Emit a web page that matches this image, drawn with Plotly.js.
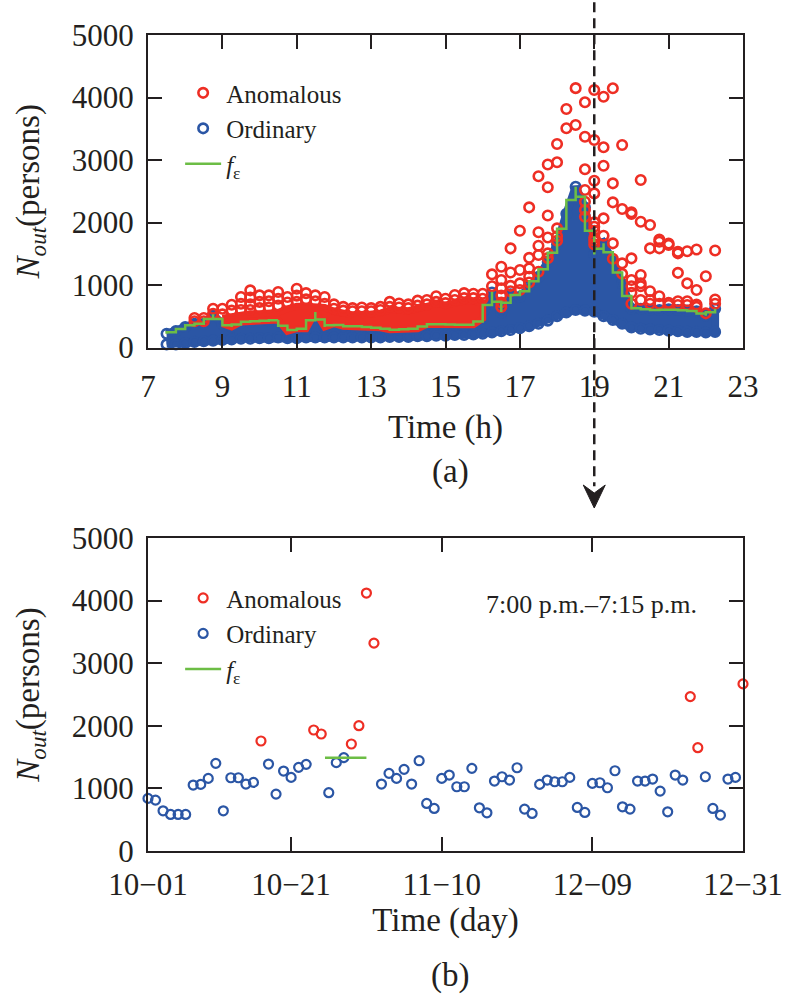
<!DOCTYPE html>
<html><head><meta charset="utf-8">
<script src="https://cdn.plot.ly/plotly-3.0.1.min.js"></script>
<style>html,body{margin:0;padding:0;background:#fff}</style>
</head><body>
<div id="chart" style="width:797px;height:995px"></div>
<script>
// ---------- Panel (a): 15-minute slots (start hour) ----------
const slots = [7.5,7.75,8,8.25,8.5,8.75,9,9.25,9.5,9.75,
  10,10.25,10.5,10.75,11,11.25,11.5,11.75,12,12.25,
  12.5,12.75,13,13.25,13.5,13.75,14,14.25,14.5,14.75,
  15,15.25,15.5,15.75,16,16.25,16.5,16.75,17,17.25,
  17.5,17.75,18,18.25,18.5,18.75,19,19.25,19.5,19.75,
  20,20.25,20.5,20.75,21,21.25,21.5,21.75,22,22.25];

// threshold f_epsilon per slot
const fEps = [221,264,328,381,381,531,381,328,408,415,
  425,432,440,259,301,301,568,328,381,339,
  339,339,317,317,285,285,301,301,371,371,
  371,365,365,365,467,893,570,860,820,984,
  1133,1373,1656,2147,2573,2250,1490,1667,1380,1020,
  627,627,600,600,610,600,590,580,510,620];

// ordinary points: lowest and highest value per slot (dense band between)
const ordLow = [50,50,70,90,100,110,120,130,140,140,
  150,150,160,150,150,160,160,160,160,160,
  160,160,160,160,170,170,170,180,180,190,
  190,200,200,210,220,240,260,280,310,340,
  380,430,500,560,600,590,573,500,440,380,
  320,300,290,280,270,260,250,250,240,250];
const ordHigh = [221,264,328,381,381,520,381,328,400,410,
  420,430,440,259,300,300,560,328,380,339,
  339,339,317,317,285,285,300,300,370,370,
  370,365,365,365,460,880,560,850,810,980,
  1130,1370,1650,2140,2573,2240,1491,1660,1380,1020,
  620,620,600,600,610,600,590,580,510,620];

// dense anomalous band (solid red) between f_eps and this top, slots 9:00-16:00
const anomBandSlots = [9,9.25,9.5,9.75,10,10.25,10.5,10.75,11,11.25,11.5,11.75,12,12.25,12.5,12.75,
  13,13.25,13.5,13.75,14,14.25,14.5,14.75,15,15.25,15.5,15.75,16];
const anomBandTop = [470,500,520,540,540,540,560,620,660,660,660,640,580,540,520,520,
  530,550,600,600,590,620,650,700,680,720,740,740,720];

// individual anomalous points per slot
const anomBySlot = [
  [],[],[],[472,420],[472,420],[621,540],[621,530],[685,590],[808,700,600],[915,800,690,600],
  [835,730,630],[835,740,640],[888,780,670],[808,720],[941,830,730],[870,770],[835,740],[808,700],[690,620],[650,590],
  [630,580],[640,580],[630,580],[650,600],[730,650],[705,640],[690,630],[750,670],[760,690],[820,730],
  [780,710],[840,760],[870,790],[860,790],[860,780],[1171,980],[1293,1080,947,830,720,650],[1587,1200,987,900],[1869,1240,1027,920],[2243,1435,1267,1133,1040],
  [2741,1845,1629,1480,1213],[2928,2565,2112,1760,1507,1430],[3256,2963,1907,1781,1709],[3816,3507],[4150,3560],[3923,3373,2851,2520,2333,2200,2091],
  [4120,3320,2669,2466,2002,1933,1869,1757,1709,1650],[4013,3203,2909,2067,1789],[4147,2627,2323,1667,1420],[3240,2216,1347,1179],
  [2165,2136,1427,1080,981,875,700],[2680,2013,1160,1027,981,760],[1960,1587,901,760,700],[1728,1693,1587,821,700],[1664,1640,715,680],
  [1533,1507,1195,741,680],[1541,1027,741,680],[1568,920,688,650],[1141,547],[1552,768,700]
];
const selectedSlot = 19;   // 7:00 p.m. - 7:15 p.m.

// ---------- Panel (b): daily counts at 7:00-7:15 p.m. ----------
const dayCounts = [840,813,642,584,584,584,1053,1064,1160,1400,
  642,1170,1170,1069,1096,1757,1389,909,1277,1176,
  1336,1384,1933,1869,931,1411,1491,1709,2002,4120,
  3320,1069,1240,1160,1304,1069,1442,760,680,1160,
  1213,1026,1026,1320,690,610,1117,1186,1133,1330,
  669,600,1064,1133,1106,1106,1176,696,616,1080,
  1090,1010,1282,706,669,1117,1117,1149,957,626,
  1213,1133,2466,1650,1186,680,573,1149,1176,2669];
const anomDays = [16,23,24,28,29,30,31,73,74,80];
const dayTickVals = [1,20,40,60,80];
const dayTickText = ['10\u221201','10\u221221','11\u221210','12\u221209','12\u221231'];
const fDayX = [24.5,30];
const fDayY = [1490,1490];

// ---------- styling ----------
const FONT = "'Liberation Serif', 'Times New Roman', serif";
const INK = '#231f20';
const RED = '#ee2e24', BLUE = '#2b56a5', GREEN = '#6cbd45';

// build traces
const ordX = slots.concat(slots), ordY = ordLow.concat(ordHigh);
const ordFillX = slots.concat(slots.slice().reverse());
const ordFillY = ordHigh.concat(ordLow.slice().reverse());
const bandLow = anomBandSlots.map(s => fEps[slots.indexOf(s)]);
const bandFillX = anomBandSlots.concat(anomBandSlots.slice().reverse());
const bandFillY = anomBandTop.concat(bandLow.slice().reverse());
const anX = [], anY = [];
anomBySlot.forEach((vals, i) => vals.forEach(v => { anX.push(slots[i]); anY.push(v); }));

const dIdx = dayCounts.map((v, i) => i + 1);
const dOrdX = [], dOrdY = [], dAnX = [], dAnY = [];
dayCounts.forEach((v, i) => {
  if (anomDays.includes(i + 1)) { dAnX.push(dIdx[i]); dAnY.push(v); }
  else { dOrdX.push(dIdx[i]); dOrdY.push(v); }
});

const mA = {symbol:'circle-open', size:9.5, color:RED, line:{width:2.6, color:RED}};
const mB = {symbol:'circle-open', size:9.5, color:BLUE, line:{width:2.6, color:BLUE}};
const mA2 = {symbol:'circle-open', size:9, color:RED, line:{width:2.2, color:RED}};
const mB2 = {symbol:'circle-open', size:9, color:BLUE, line:{width:2.2, color:BLUE}};

const traces = [
  {x:ordFillX, y:ordFillY, mode:'lines', fill:'toself', fillcolor:BLUE, line:{width:8, color:BLUE},
   showlegend:false, hoverinfo:'skip', xaxis:'x', yaxis:'y', cliponaxis:false},
  {x:ordX, y:ordY, mode:'markers', marker:mB, name:'Ordinary', legendrank:2, xaxis:'x', yaxis:'y', legend:'legend', cliponaxis:false},
  {x:bandFillX, y:bandFillY, mode:'lines', fill:'toself', fillcolor:RED, line:{width:7, color:RED},
   showlegend:false, hoverinfo:'skip', xaxis:'x', yaxis:'y'},
  {x:anX, y:anY, mode:'markers', marker:mA, name:'Anomalous', legendrank:1, xaxis:'x', yaxis:'y', legend:'legend', cliponaxis:false},
  {x:slots, y:fEps, mode:'lines', line:{color:GREEN, width:2.5, shape:'vhv'}, name:'<i>f</i><sub>ε</sub>',
   legendrank:3, xaxis:'x', yaxis:'y', legend:'legend'},

  {x:dOrdX, y:dOrdY, mode:'markers', marker:mB2, name:'Ordinary', legendrank:2, xaxis:'x2', yaxis:'y2', legend:'legend2', cliponaxis:false},
  {x:dAnX, y:dAnY, mode:'markers', marker:mA2, name:'Anomalous', legendrank:1, xaxis:'x2', yaxis:'y2', legend:'legend2', cliponaxis:false},
  {x:fDayX, y:fDayY, mode:'lines', line:{color:GREEN, width:2.5}, name:'<i>f</i><sub>ε</sub>',
   legendrank:3, xaxis:'x2', yaxis:'y2', legend:'legend2'}
];

const ax = {showline:true, linecolor:INK, linewidth:2, mirror:'ticks', ticks:'inside', ticklen:14,
  tickwidth:2, tickcolor:INK, showgrid:false, zeroline:false,
  tickfont:{family:FONT, size:31, color:INK}};
const titleFont = {family:FONT, size:33, color:INK};
const legFont = {family:FONT, size:25, color:INK};

const layout = {
  width:797, height:995,
  margin:{l:148, r:54, t:35, b:144, pad:0},
  paper_bgcolor:'#fff', plot_bgcolor:'#fff',
  font:{family:FONT, color:INK},
  showlegend:true,
  xaxis: Object.assign({}, ax, {anchor:'y', domain:[0,1], range:[7,23], tickvals:[7,9,11,13,15,17,19,21,23],
    ticklabelstandoff:10, title:{text:'Time (h)', font:titleFont, standoff:12}}),
  yaxis: Object.assign({}, ax, {anchor:'x', domain:[0.617,1], range:[0,5000], tickvals:[0,1000,2000,3000,4000,5000],
    ticklabelstandoff:6, title:{text:'<i>N<sub>out</sub></i>(persons)', font:titleFont, standoff:22}}),
  xaxis2: Object.assign({}, ax, {anchor:'y2', domain:[0,1], range:[1,80], tickvals:dayTickVals, ticktext:dayTickText,
    ticklabelstandoff:5, title:{text:'Time (day)', font:titleFont, standoff:4}}),
  yaxis2: Object.assign({}, ax, {anchor:'x2', domain:[0,0.3836], range:[0,5000], tickvals:[0,1000,2000,3000,4000,5000],
    ticklabelstandoff:6, title:{text:'<i>N<sub>out</sub></i>(persons)', font:titleFont, standoff:22}}),
  legend:{x:0.054, xanchor:'left', y:0.957, yanchor:'top', bgcolor:'rgba(0,0,0,0)', borderwidth:0,
    font:legFont, itemwidth:36, traceorder:'normal', itemclick:false},
  legend2:{x:0.054, xanchor:'left', y:0.338, yanchor:'top', bgcolor:'rgba(0,0,0,0)', borderwidth:0,
    font:legFont, itemwidth:36, traceorder:'normal', itemclick:false},
  annotations:[
    {text:'(a)', xref:'paper', yref:'paper', x:0.508, y:0.4645, xanchor:'center', yanchor:'middle', showarrow:false, font:titleFont},
    {text:'(b)', xref:'paper', yref:'paper', x:0.508, y:-0.152, xanchor:'center', yanchor:'middle', showarrow:false, font:titleFont},
    {text:'7:00 p.m.\u20137:15 p.m.', xref:'x2 domain', yref:'y2 domain', x:0.745, y:0.786, xanchor:'center', yanchor:'middle',
     showarrow:false, font:{family:FONT, size:26, color:INK}}
  ],
  shapes:[
    {type:'line', xref:'x', yref:'paper', x0:selectedSlot, x1:selectedSlot, y0:1.040, y1:0.447,
     line:{color:INK, width:2.5, dash:'10px,6px'}},
    {type:'path', xref:'x', yref:'paper', xsizemode:'pixel', ysizemode:'pixel', xanchor:selectedSlot, yanchor:0.4485,
     path:'M-11,0 L0,-23 L11,0 L0,-8 Z', fillcolor:INK, line:{color:INK, width:1}}
  ]
};

Plotly.newPlot('chart', traces, layout, {staticPlot:true, displayModeBar:false});
</script>
</body></html>
